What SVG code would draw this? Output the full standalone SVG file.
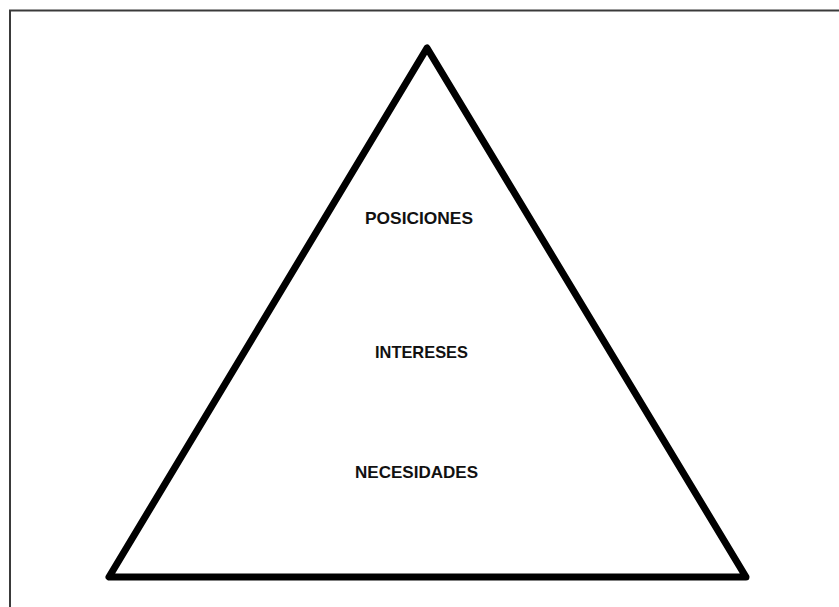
<svg xmlns="http://www.w3.org/2000/svg" width="839" height="607" viewBox="0 0 839 607">
<style>
.lbl{font-family:"Liberation Sans",Arial,sans-serif;font-weight:bold;font-size:17px;fill:#111;text-anchor:middle}
</style>
<rect width="839" height="607" fill="#fff"/>
<path d="M10,620 V10.5 H850" fill="none" stroke="#3a3a3a" stroke-width="2"/>
<g id="connectors"></g>
<g id="triangle">
<polygon points="427,48 109,577 746,577" fill="none" stroke="#000" stroke-width="7" stroke-linejoin="round"/>
</g>
<g id="posiciones"><text class="lbl" x="419" y="224" textLength="108" lengthAdjust="spacingAndGlyphs">POSICIONES</text></g>
<g id="intereses"><text class="lbl" x="421.5" y="358" textLength="93" lengthAdjust="spacingAndGlyphs">INTERESES</text></g>
<g id="necesidades"><text class="lbl" x="416.5" y="478" textLength="123" lengthAdjust="spacingAndGlyphs">NECESIDADES</text></g>
</svg>
